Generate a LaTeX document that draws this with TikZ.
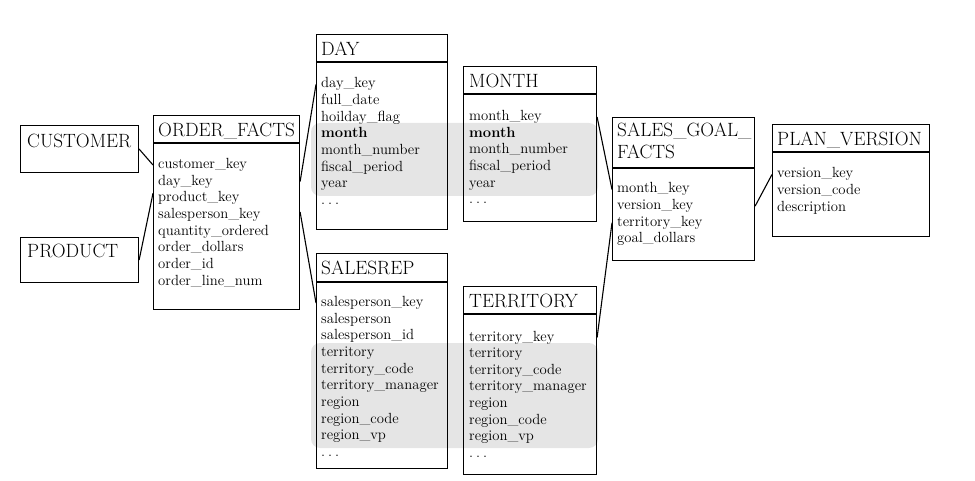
\documentclass[tikz,border=0pt]{standalone}
\begin{document}
\begin{tikzpicture}[x=1pt,y=-1pt,
  box/.style={draw=black,line width=1.1pt,anchor=north west,inner sep=0pt},
  item/.style={anchor=base west,inner sep=0pt,text height=10pt,text depth=3pt,font=\fontsize{14.7}{16}\selectfont},
  ttl/.style={anchor=base west,inner sep=0pt,font=\fontsize{19.2}{22}\selectfont},
  conn/.style={line width=1.1pt},
  band/.style={fill=black!10,rounded corners=9pt}]
\useasboundingbox (0,0) rectangle (975,481);
% shaded bands
\fill[band] (311,123) rectangle (598,196);
\fill[band] (311,343) rectangle (598,448);
% boxes
\node[box,minimum width=118pt,minimum height=47pt] (cust) at (20,125) {};
\node[box,minimum width=118pt,minimum height=45pt] (prod) at (20,237) {};
\node[box,minimum width=146pt,minimum height=194pt] (of) at (153,115) {};
\node[box,minimum width=131pt,minimum height=195pt] (day) at (316,34) {};
\node[box,minimum width=133pt,minimum height=155pt] (month) at (463,66) {};
\node[box,minimum width=131pt,minimum height=215pt] (srep) at (316,253) {};
\node[box,minimum width=133pt,minimum height=188pt] (terr) at (463,286) {};
\node[box,minimum width=142pt,minimum height=143pt] (sg) at (612,117) {};
\node[box,minimum width=157pt,minimum height=112pt] (pv) at (772,124) {};
% dividers
\foreach \b/\d in {of/28,day/28,month/28,srep/29,terr/28,sg/51,pv/28}
  \draw[line width=1.1pt] ([yshift=-\d pt]\b.north west) -- ([yshift=-\d pt]\b.north east);
% titles
\node[ttl] (cust-t) at (27,148) {CUSTOMER};
\node[ttl] (prod-t) at (27,258) {PRODUCT};
\node[ttl] (of-t) at (158,137) {ORDER\_FACTS};
\node[ttl] (day-t) at (321,56) {DAY};
\node[ttl] (month-t) at (469,88) {MONTH};
\node[ttl] (srep-t) at (321,275) {SALESREP};
\node[ttl] (terr-t) at (469,308) {TERRITORY};
\node[ttl] (sg-t1) at (617,137) {SALES\_GOAL\_};
\node[ttl] (sg-t2) at (617,159) {FACTS};
\node[ttl] (pv-t) at (777,146) {PLAN\_VERSION};
% items
\newcommand{\mydots}{.\hspace{3pt}.\hspace{3pt}.}
\foreach \t [count=\i] in {customer\_key,day\_key,product\_key,salesperson\_key,quantity\_ordered,order\_dollars,order\_id,order\_line\_num}
  \node[item] (of-\i) at (158,168.5+16.65*\i-16.65) {\t};
\foreach \t [count=\i] in {day\_key,full\_date,hoilday\_flag,{\textbf{month}},month\_number,fiscal\_period,year,\mydots}
  \node[item] (day-\i) at (321,88+16.65*\i-16.65) {\t};
\foreach \t [count=\i] in {month\_key,{\textbf{month}},month\_number,fiscal\_period,year,\mydots}
  \node[item] (month-\i) at (469,120.5+16.65*\i-16.65) {\t};
\foreach \t [count=\i] in {salesperson\_key,salesperson,salesperson\_id,territory,territory\_code,territory\_manager,region,region\_code,region\_vp,\mydots}
  \node[item] (srep-\i) at (321,306.5+16.65*\i-16.65) {\t};
\foreach \t [count=\i] in {territory\_key,territory,territory\_code,territory\_manager,region,region\_code,region\_vp,\mydots}
  \node[item] (terr-\i) at (469,341+16.65*\i-16.65) {\t};
\foreach \t [count=\i] in {month\_key,version\_key,territory\_key,goal\_dollars}
  \node[item] (sg-\i) at (617,193+16.65*\i-16.65) {\t};
\foreach \t [count=\i] in {version\_key,version\_code,description}
  \node[item] (pv-\i) at (777,178+16.65*\i-16.65) {\t};
% connectors
\draw[conn] (cust.east) -- (of-1.west -| of.west);
\draw[conn] (prod.east) -- ([yshift=5pt]of-3.west -| of.west);
\draw[conn] (of-2.west -| of.east) -- (day-1.west -| day.west);
\draw[conn] ([yshift=3pt]of-4.west -| of.east) -- (srep-1.west -| srep.west);
\draw[conn] (month-1.west -| month.east) -- (sg-1.west -| sg.west);
\draw[conn] (terr-1.west -| terr.east) -- (sg-3.west -| sg.west);
\draw[conn] (sg-2.west -| sg.east) -- (pv-1.west -| pv.west);
\end{tikzpicture}
\end{document}
